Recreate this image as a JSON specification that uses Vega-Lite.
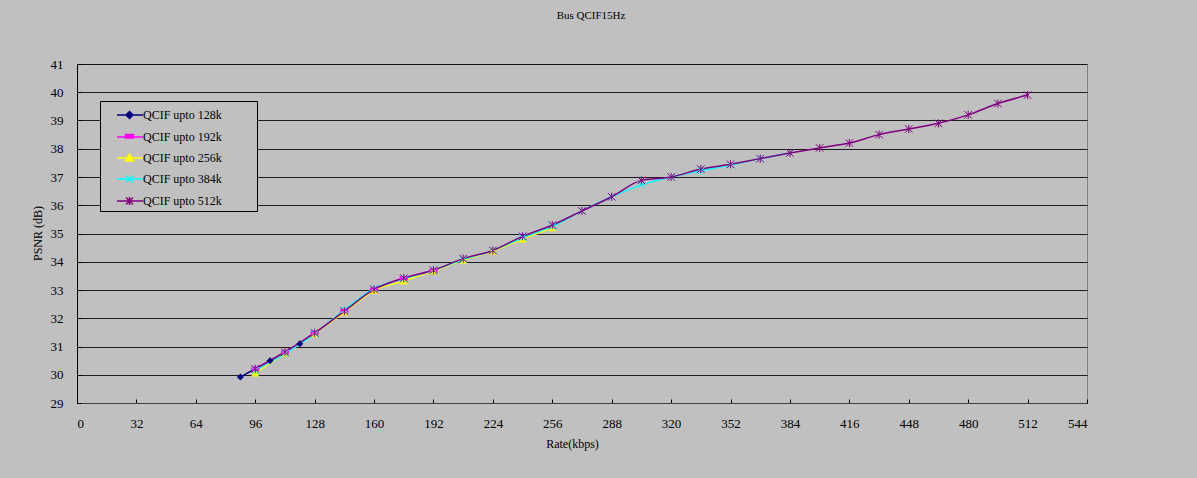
{
  "$schema": "https://vega.github.io/schema/vega-lite/v6.json",
  "width": 1010,
  "height": 339,
  "autosize": {"type": "none"},
  "padding": {"left": 77, "top": 64, "right": 110, "bottom": 75},
  "background": "#C0C0C0",
  "title": {
    "text": "Bus QCIF15Hz",
    "font": "Liberation Serif",
    "fontSize": 11,
    "fontWeight": "normal",
    "color": "#000000",
    "anchor": "middle",
    "dx": 9,
    "offset": 37
  },
  "config": {
    "view": {"fill": "#C0C0C0", "stroke": "#808080", "strokeWidth": 1},
    "axis": {
      "labelFont": "Liberation Serif",
      "labelFontSize": 13,
      "labelColor": "#000000",
      "titleFont": "Liberation Serif",
      "titleFontSize": 12,
      "titleFontWeight": "normal",
      "titleColor": "#000000",
      "domainColor": "#000000",
      "tickColor": "#000000",
      "tickSize": -4,
      "labelPadding": 18
    }
  },
  "data": {
    "values": [
      {"series": "QCIF upto 128k", "rate": 88, "psnr": 29.92},
      {"series": "QCIF upto 128k", "rate": 104, "psnr": 30.5},
      {"series": "QCIF upto 128k", "rate": 120, "psnr": 31.1},
      {"series": "QCIF upto 192k", "rate": 96, "psnr": 30.21},
      {"series": "QCIF upto 192k", "rate": 112, "psnr": 30.8},
      {"series": "QCIF upto 192k", "rate": 128, "psnr": 31.48},
      {"series": "QCIF upto 192k", "rate": 144, "psnr": 32.25},
      {"series": "QCIF upto 192k", "rate": 160, "psnr": 33.02},
      {"series": "QCIF upto 192k", "rate": 176, "psnr": 33.42},
      {"series": "QCIF upto 192k", "rate": 192, "psnr": 33.69},
      {"series": "QCIF upto 256k", "rate": 96, "psnr": 30.06},
      {"series": "QCIF upto 256k", "rate": 112, "psnr": 30.76},
      {"series": "QCIF upto 256k", "rate": 128, "psnr": 31.45},
      {"series": "QCIF upto 256k", "rate": 144, "psnr": 32.22},
      {"series": "QCIF upto 256k", "rate": 160, "psnr": 32.98},
      {"series": "QCIF upto 256k", "rate": 176, "psnr": 33.32},
      {"series": "QCIF upto 256k", "rate": 192, "psnr": 33.68},
      {"series": "QCIF upto 256k", "rate": 208, "psnr": 34.06},
      {"series": "QCIF upto 256k", "rate": 224, "psnr": 34.38},
      {"series": "QCIF upto 256k", "rate": 240, "psnr": 34.8},
      {"series": "QCIF upto 256k", "rate": 256, "psnr": 35.2},
      {"series": "QCIF upto 384k", "rate": 96, "psnr": 30.15},
      {"series": "QCIF upto 384k", "rate": 112, "psnr": 30.75},
      {"series": "QCIF upto 384k", "rate": 128, "psnr": 31.45},
      {"series": "QCIF upto 384k", "rate": 144, "psnr": 32.3},
      {"series": "QCIF upto 384k", "rate": 160, "psnr": 33.05},
      {"series": "QCIF upto 384k", "rate": 176, "psnr": 33.4},
      {"series": "QCIF upto 384k", "rate": 192, "psnr": 33.7},
      {"series": "QCIF upto 384k", "rate": 208, "psnr": 34.08},
      {"series": "QCIF upto 384k", "rate": 224, "psnr": 34.4},
      {"series": "QCIF upto 384k", "rate": 240, "psnr": 34.85},
      {"series": "QCIF upto 384k", "rate": 256, "psnr": 35.25},
      {"series": "QCIF upto 384k", "rate": 272, "psnr": 35.8},
      {"series": "QCIF upto 384k", "rate": 288, "psnr": 36.3},
      {"series": "QCIF upto 384k", "rate": 304, "psnr": 36.72},
      {"series": "QCIF upto 384k", "rate": 320, "psnr": 37.0},
      {"series": "QCIF upto 384k", "rate": 336, "psnr": 37.22},
      {"series": "QCIF upto 384k", "rate": 352, "psnr": 37.42},
      {"series": "QCIF upto 384k", "rate": 368, "psnr": 37.65},
      {"series": "QCIF upto 384k", "rate": 384, "psnr": 37.85},
      {"series": "QCIF upto 512k", "rate": 96, "psnr": 30.21},
      {"series": "QCIF upto 512k", "rate": 112, "psnr": 30.8},
      {"series": "QCIF upto 512k", "rate": 128, "psnr": 31.48},
      {"series": "QCIF upto 512k", "rate": 144, "psnr": 32.25},
      {"series": "QCIF upto 512k", "rate": 160, "psnr": 33.02},
      {"series": "QCIF upto 512k", "rate": 176, "psnr": 33.42},
      {"series": "QCIF upto 512k", "rate": 192, "psnr": 33.7},
      {"series": "QCIF upto 512k", "rate": 208, "psnr": 34.11},
      {"series": "QCIF upto 512k", "rate": 224, "psnr": 34.4},
      {"series": "QCIF upto 512k", "rate": 240, "psnr": 34.9},
      {"series": "QCIF upto 512k", "rate": 256, "psnr": 35.3},
      {"series": "QCIF upto 512k", "rate": 272, "psnr": 35.8},
      {"series": "QCIF upto 512k", "rate": 288, "psnr": 36.3},
      {"series": "QCIF upto 512k", "rate": 304, "psnr": 36.88},
      {"series": "QCIF upto 512k", "rate": 320, "psnr": 37.0},
      {"series": "QCIF upto 512k", "rate": 336, "psnr": 37.28},
      {"series": "QCIF upto 512k", "rate": 352, "psnr": 37.45},
      {"series": "QCIF upto 512k", "rate": 368, "psnr": 37.65},
      {"series": "QCIF upto 512k", "rate": 384, "psnr": 37.85},
      {"series": "QCIF upto 512k", "rate": 400, "psnr": 38.03},
      {"series": "QCIF upto 512k", "rate": 416, "psnr": 38.2},
      {"series": "QCIF upto 512k", "rate": 432, "psnr": 38.5},
      {"series": "QCIF upto 512k", "rate": 448, "psnr": 38.7},
      {"series": "QCIF upto 512k", "rate": 464, "psnr": 38.9},
      {"series": "QCIF upto 512k", "rate": 480, "psnr": 39.2},
      {"series": "QCIF upto 512k", "rate": 496, "psnr": 39.6},
      {"series": "QCIF upto 512k", "rate": 512, "psnr": 39.9}
    ]
  },
  "encoding": {
    "x": {
      "field": "rate",
      "type": "quantitative",
      "scale": {"domain": [0, 544], "nice": false, "zero": false},
      "axis": {
        "title": "Rate(kbps)",
        "values": [0, 32, 64, 96, 128, 160, 192, 224, 256, 288, 320, 352, 384, 416, 448, 480, 512, 544],
        "grid": false,
        "domainColor": "#404040",
        "titleX": 495,
        "titleY": 40,
        "titleBaseline": "middle"
      }
    },
    "y": {
      "field": "psnr",
      "type": "quantitative",
      "scale": {"domain": [29, 41], "nice": false, "zero": false},
      "axis": {
        "title": "PSNR (dB)",
        "values": [29, 30, 31, 32, 33, 34, 35, 36, 37, 38, 39, 40, 41],
        "grid": true,
        "gridColor": "#000000",
        "gridOpacity": 0.85,
        "gridWidth": 1,
        "titleX": -40,
        "titleY": 169,
        "titleAlign": "center",
        "titleBaseline": "middle"
      }
    }
  },
  "layer": [
    {
      "mark": {"type": "line", "interpolate": "monotone", "strokeWidth": 1.5},
      "encoding": {
        "color": {
          "field": "series",
          "type": "nominal",
          "scale": {
            "domain": ["QCIF upto 128k", "QCIF upto 192k", "QCIF upto 256k", "QCIF upto 384k", "QCIF upto 512k"],
            "range": ["#000080", "#FF00FF", "#FFFF00", "#00FFFF", "#800080"]
          },
          "legend": {
            "title": null,
            "orient": "none",
            "legendX": 23,
            "legendY": 37,
            "padding": 3,
            "fillColor": "#C0C0C0",
            "strokeColor": "#000000",
            "labelFont": "Liberation Serif",
            "labelFontSize": 12,
            "labelColor": "#000000",
            "labelOffset": 18,
            "symbolSize": 400,
            "rowPadding": 4,
            "encode": {
              "symbols": {
                "update": {
                  "shape": {"signal": "datum.value === 'QCIF upto 128k' ? 'M0.3,0H2.9M1.55,-0.35L1.9,0L1.55,0.35L1.2,0ZM13.7,0' : datum.value === 'QCIF upto 192k' ? 'M0.3,0H2.9M1.15,-0.25H1.95V0.1H1.15ZM13.7,0' : datum.value === 'QCIF upto 256k' ? 'M0.3,0H2.9M1.55,-0.4L1.95,0.3H1.15ZM13.7,0' : datum.value === 'QCIF upto 384k' ? 'M0.3,0H2.9M1.2,-0.35L1.9,0.35M1.2,0.35L1.9,-0.35M13.7,0' : 'M0.3,0H2.9M1.2,-0.35L1.9,0.35M1.2,0.35L1.9,-0.35M1.55,-0.4V0.4M13.7,0'"},
                  "fill": {"scale": "color", "field": "value"},
                  "stroke": {"scale": "color", "field": "value"},
                  "strokeWidth": {"value": 1.5},
                  "opacity": {"value": 1},
                  "fillOpacity": {"value": 1}
                }
              }
            }
          }
        }
      }
    },
    {
      "transform": [{"filter": "datum.series === 'QCIF upto 128k'"}],
      "mark": {"type": "point", "shape": "diamond", "filled": true, "size": 49, "color": "#000080", "opacity": 1}
    },
    {
      "transform": [{"filter": "datum.series === 'QCIF upto 192k'"}],
      "mark": {"type": "point", "shape": "M-1,-0.5H1V0.5H-1Z", "filled": true, "size": 64, "color": "#FF00FF", "opacity": 1}
    },
    {
      "transform": [{"filter": "datum.series === 'QCIF upto 256k'"}],
      "mark": {"type": "point", "shape": "triangle-up", "filled": true, "size": 64, "color": "#FFFF00", "opacity": 1}
    },
    {
      "transform": [{"filter": "datum.series === 'QCIF upto 384k'"}],
      "mark": {"type": "point", "shape": "M-1,-1L1,1M-1,1L1,-1", "filled": false, "size": 49, "color": "#00FFFF", "strokeWidth": 1, "opacity": 1}
    },
    {
      "transform": [{"filter": "datum.series === 'QCIF upto 512k'"}],
      "mark": {"type": "point", "shape": "M-1,-1L1,1M-1,1L1,-1M0,-1.1V1.1", "filled": false, "size": 56, "color": "#800080", "strokeWidth": 1, "opacity": 1}
    }
  ]
}
